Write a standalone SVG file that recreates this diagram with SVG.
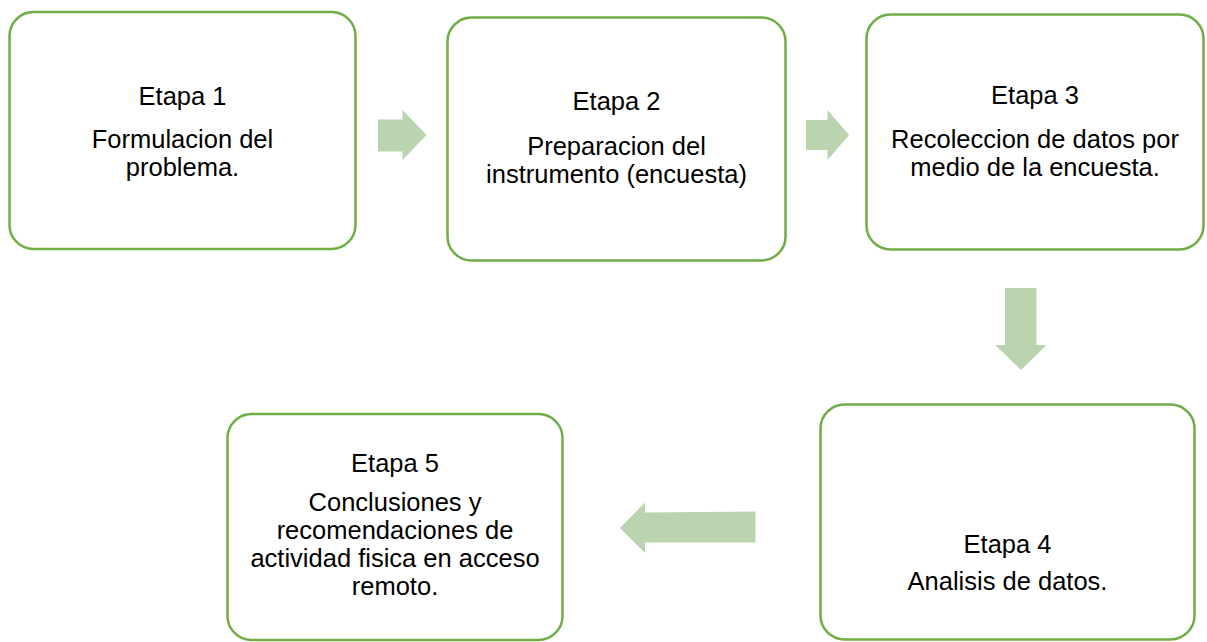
<svg xmlns="http://www.w3.org/2000/svg" width="1207" height="642" viewBox="0 0 1207 642">
<style>
.box{fill:#fff;stroke:#70AD47;stroke-width:2.5}
.arr{fill:#BAD4AF}
text{font-family:"Liberation Sans",Arial,sans-serif;font-size:25.5px;fill:#000;text-anchor:middle}
</style>
<rect width="1207" height="642" fill="#fff"/>
<g id="connectors">
<polygon class="arr" points="378,119.5 402.5,119.5 402.5,110 426.5,135 402.5,160 402.5,151.5 378,151.5"/>
<polygon class="arr" points="806,120 827.5,120 827.5,110 849,135 827.5,160 827.5,150 806,150"/>
<polygon class="arr" points="1005,288 1036.5,288 1036.5,345 1046.5,345 1021,370 995,345 1005,345"/>
<polygon class="arr" points="755.5,511.5 755.5,542.5 645,542.5 645,553 620,528 645,502.5 645,512.5"/>
</g>
<g id="node1">
<rect class="box" x="9.5" y="12" width="346" height="237" rx="24"/>
<text x="182.5" y="105">Etapa 1</text>
<text x="182.5" y="148">Formulacion del</text>
<text x="182.5" y="176">problema.</text>
</g>
<g id="node2">
<rect class="box" x="447.5" y="17.5" width="338" height="243" rx="24"/>
<text x="616.5" y="110">Etapa 2</text>
<text x="616.5" y="155">Preparacion del</text>
<text x="616.5" y="183">instrumento (encuesta)</text>
</g>
<g id="node3">
<rect class="box" x="866.5" y="14.5" width="337" height="235" rx="24"/>
<text x="1035" y="104">Etapa 3</text>
<text x="1035" y="148">Recoleccion de datos por</text>
<text x="1035" y="176">medio de la encuesta.</text>
</g>
<g id="node4">
<rect class="box" x="820.5" y="404.5" width="374" height="235" rx="24"/>
<text x="1007.5" y="553">Etapa 4</text>
<text x="1007.5" y="590">Analisis de datos.</text>
</g>
<g id="node5">
<rect class="box" x="227.5" y="414" width="335" height="226" rx="24"/>
<text x="395" y="472">Etapa 5</text>
<text x="395" y="511">Conclusiones y</text>
<text x="395" y="539">recomendaciones de</text>
<text x="395" y="567">actividad fisica en acceso</text>
<text x="395" y="595">remoto.</text>
</g>
</svg>
